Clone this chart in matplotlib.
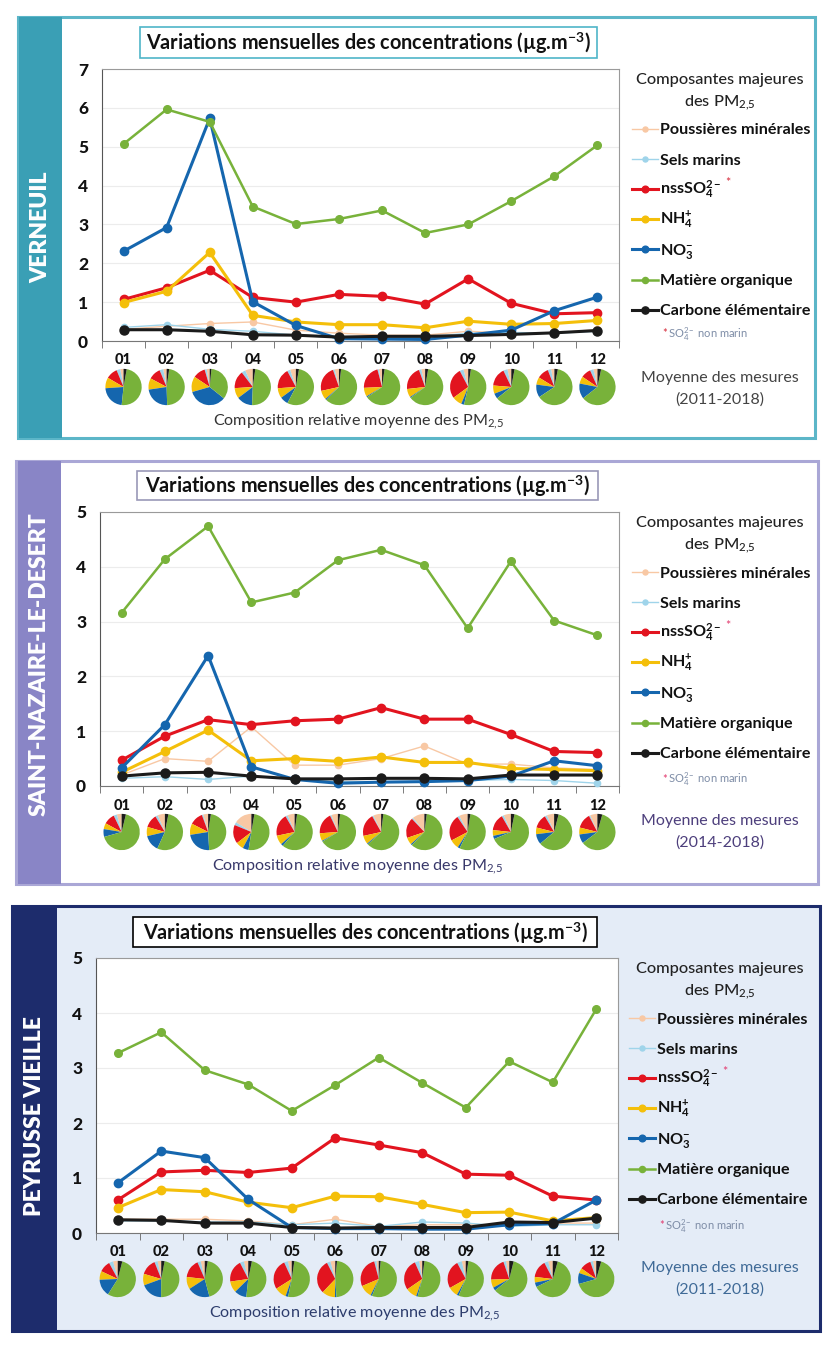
import numpy as np
import matplotlib
matplotlib.use("Agg")
import matplotlib.pyplot as plt
from matplotlib.patches import Rectangle

plt.rcParams["font.family"] = ["Lato", "DejaVu Sans"]
plt.rcParams["mathtext.fontset"] = "custom"
plt.rcParams["mathtext.rm"] = "Lato"
plt.rcParams["mathtext.it"] = "Lato:italic"
plt.rcParams["mathtext.bf"] = "Lato:bold"

W, H = 823, 1346

# ------------------------------------------------------------------
# Monthly mean concentrations (µg/m3), one list per component
# ------------------------------------------------------------------
months = ["01", "02", "03", "04", "05", "06", "07", "08", "09", "10", "11", "12"]

labels = [
    "Poussières minérales",
    "Sels marins",
    r"nssSO$_\mathregular{4}^\mathregular{2-}$",
    r"NH$_\mathregular{4}^\mathregular{+}$",
    r"NO$_\mathregular{3}^\mathregular{-}$",
    "Matière organique",
    "Carbone élémentaire",
]

# Verneuil (2011-2018)
verneuil_dust = [0.30, 0.38, 0.45, 0.49, 0.28, 0.20, 0.15, 0.15, 0.25, 0.20, 0.20, 0.30]
verneuil_salt = [0.35, 0.42, 0.30, 0.25, 0.15, 0.08, 0.07, 0.10, 0.20, 0.22, 0.20, 0.25]
verneuil_so4 = [1.07, 1.37, 1.82, 1.12, 1.00, 1.20, 1.15, 0.95, 1.60, 0.97, 0.70, 0.73]
verneuil_nh4 = [0.99, 1.28, 2.28, 0.66, 0.49, 0.42, 0.42, 0.34, 0.51, 0.43, 0.45, 0.53]
verneuil_no3 = [2.31, 2.92, 5.73, 1.01, 0.40, 0.06, 0.05, 0.04, 0.15, 0.28, 0.78, 1.13]
verneuil_om = [5.07, 5.96, 5.64, 3.46, 3.01, 3.14, 3.36, 2.78, 3.00, 3.60, 4.24, 5.04]
verneuil_ec = [0.29, 0.29, 0.25, 0.16, 0.15, 0.10, 0.12, 0.12, 0.14, 0.17, 0.21, 0.27]

# Saint-Nazaire-le-Desert (2014-2018)
nazaire_dust = [0.20, 0.50, 0.45, 1.08, 0.38, 0.38, 0.50, 0.73, 0.40, 0.40, 0.33, 0.30]
nazaire_salt = [0.14, 0.17, 0.12, 0.18, 0.12, 0.08, 0.08, 0.08, 0.10, 0.12, 0.10, 0.05]
nazaire_so4 = [0.47, 0.91, 1.21, 1.12, 1.19, 1.22, 1.43, 1.22, 1.22, 0.94, 0.63, 0.61]
nazaire_nh4 = [0.25, 0.63, 1.02, 0.46, 0.50, 0.45, 0.53, 0.43, 0.43, 0.32, 0.30, 0.28]
nazaire_no3 = [0.33, 1.12, 2.38, 0.35, 0.12, 0.05, 0.07, 0.08, 0.10, 0.18, 0.46, 0.37]
nazaire_om = [3.16, 4.14, 4.74, 3.35, 3.53, 4.12, 4.31, 4.03, 2.88, 4.10, 3.02, 2.75]
nazaire_ec = [0.18, 0.24, 0.25, 0.18, 0.13, 0.13, 0.14, 0.14, 0.13, 0.20, 0.20, 0.20]

# Peyrusse Vieille (2011-2018)
peyrusse_dust = [0.25, 0.25, 0.25, 0.22, 0.15, 0.25, 0.12, 0.15, 0.15, 0.15, 0.18, 0.18]
peyrusse_salt = [0.22, 0.22, 0.20, 0.20, 0.15, 0.18, 0.12, 0.20, 0.18, 0.12, 0.15, 0.15]
peyrusse_so4 = [0.60, 1.11, 1.14, 1.10, 1.18, 1.73, 1.60, 1.46, 1.07, 1.05, 0.67, 0.60]
peyrusse_nh4 = [0.46, 0.79, 0.75, 0.56, 0.46, 0.67, 0.66, 0.52, 0.37, 0.38, 0.22, 0.28]
peyrusse_no3 = [0.91, 1.49, 1.37, 0.61, 0.10, 0.08, 0.08, 0.07, 0.07, 0.15, 0.17, 0.60]
peyrusse_om = [3.27, 3.65, 2.96, 2.70, 2.22, 2.69, 3.19, 2.73, 2.28, 3.12, 2.74, 4.07]
peyrusse_ec = [0.24, 0.23, 0.18, 0.18, 0.10, 0.09, 0.10, 0.10, 0.10, 0.20, 0.19, 0.27]

# ------------------------------------------------------------------
# Styles
# ------------------------------------------------------------------
line_colors = ["#f8c8a4", "#9fd4ea", "#e2141f", "#f4bf0a", "#1566ae", "#78b23a", "#1b1b1b"]
line_widths = [1.0, 1.0, 2.2, 2.2, 2.2, 1.8, 2.2]
marker_sizes = [4.5, 4.5, 6, 6, 6, 5.5, 6.5]

panels = [
    dict(name="VERNEUIL", period="(2011-2018)", ymax=7,
         series=[verneuil_dust, verneuil_salt, verneuil_so4, verneuil_nh4,
                 verneuil_no3, verneuil_om, verneuil_ec],
         frame=(18, 17, 815, 438), band=(19, 17, 62, 438), band_color="#3a9fb5",
         edge="#5cb6c8", face="white", title_box=(140, 27, 597, 58),
         title_edge="#4fb5c8", axes=(102, 69, 619, 341), band_text_y=227,
         legend_x=632, note_y=334, period_y=378,
         bottom_color="#333333", period_color="#444444", star_color="#d62a3a"),
    dict(name="SAINT-NAZAIRE-LE-DESERT", period="(2014-2018)", ymax=5,
         series=[nazaire_dust, nazaire_salt, nazaire_so4, nazaire_nh4,
                 nazaire_no3, nazaire_om, nazaire_ec],
         frame=(16, 461, 818, 884), band=(18, 461, 61, 884), band_color="#8985c6",
         edge="#aaa7d6", face="white", title_box=(137, 471, 598, 500),
         title_edge="#9a98b8", axes=(100, 512, 619, 786), band_text_y=664,
         legend_x=632, note_y=779, period_y=821,
         bottom_color="#38386a", period_color="#4d3f7c", star_color="#e23a6e"),
    dict(name="PEYRUSSE VIEILLE", period="(2011-2018)", ymax=5,
         series=[peyrusse_dust, peyrusse_salt, peyrusse_so4, peyrusse_nh4,
                 peyrusse_no3, peyrusse_om, peyrusse_ec],
         frame=(12, 906, 820, 1331), band=(13, 906, 57, 1331), band_color="#1d2c6c",
         edge="#1d2c6c", face="#e4ecf7", title_box=(133, 917, 597, 947),
         title_edge="black", axes=(96, 958, 618, 1233), band_text_y=1116,
         legend_x=629, note_y=1226, period_y=1268,
         bottom_color="#2c3c6c", period_color="#3f6a97", star_color="#e23a6e"),
]

PM25 = r"PM$_\mathregular{2{,}5}$"


def px_rect(x0, y0, x1, y1):
    return [x0 / W, 1 - y1 / H, (x1 - x0) / W, (y1 - y0) / H]


fig = plt.figure(figsize=(W / 100, H / 100), dpi=100)
bg = fig.add_axes([0, 0, 1, 1])
bg.set_xlim(0, W)
bg.set_ylim(H, 0)
bg.axis("off")

x = np.arange(len(months))

for p in panels:
    fx0, fy0, fx1, fy1 = p["frame"]
    bg.add_patch(Rectangle((fx0, fy0), fx1 - fx0, fy1 - fy0, facecolor=p["face"],
                           edgecolor=p["edge"], lw=2.2))
    bx0, by0, bx1, by1 = p["band"]
    bg.add_patch(Rectangle((bx0, by0), bx1 - bx0, by1 - by0, facecolor=p["band_color"],
                           edgecolor="none"))
    bg.text((bx0 + bx1) / 2, p["band_text_y"], p["name"], rotation=90, color="white",
            fontsize=16.5, fontweight="heavy", ha="center", va="center")

    tx0, ty0, tx1, ty1 = p["title_box"]
    bg.add_patch(Rectangle((tx0, ty0), tx1 - tx0, ty1 - ty0, facecolor="white",
                           edgecolor=p["title_edge"], lw=1.2))
    bg.text((tx0 + tx1) / 2, (ty0 + ty1) / 2 + 1,
            r"Variations mensuelles des concentrations (µg.m$^\mathregular{-3}$)",
            fontsize=14.3, fontweight="bold", ha="center", va="center", color="#111111")

    ax0, ay0, ax1, ay1 = p["axes"]
    ax = fig.add_axes(px_rect(ax0, ay0, ax1, ay1))
    ax.set_facecolor("white")
    for vals, c, lw, ms in zip(p["series"], line_colors, line_widths, marker_sizes):
        ax.plot(x, vals, color=c, lw=lw, marker="o", ms=ms, clip_on=False, zorder=3)

    ax.set_xlim(-0.5, len(months) - 0.5)
    ax.set_ylim(0, p["ymax"])
    yt = list(range(p["ymax"] + 1))
    ax.set_yticks(yt, labels=[str(v) for v in yt])
    ax.set_xticks(x, labels=months)
    ax.set_xticks(np.arange(-0.5, len(months)), minor=True)
    ax.tick_params(axis="x", which="major", length=0, pad=9)
    ax.tick_params(axis="x", which="minor", length=5, direction="out", color="#666666")
    ax.tick_params(axis="y", length=0, pad=10)
    plt.setp(ax.get_yticklabels(), fontweight="black", fontsize=12.5, color="#111111")
    plt.setp(ax.get_xticklabels(), fontweight="black", fontsize=10.5, color="#111111")
    ax.grid(axis="y", color="#ececec", lw=0.8)
    ax.set_axisbelow(True)
    for side in ["top", "right"]:
        ax.spines[side].set_color("#9a9a9a")
        ax.spines[side].set_linewidth(0.8)
    ax.spines["left"].set_color("#555555")
    ax.spines["bottom"].set_color("#777777")

    # relative composition pies below each month
    axh = ay1 - ay0
    pie_d = 37
    pie_cy = 46
    for i in range(len(months)):
        comp = [s[i] for s in p["series"]]
        pa = ax.inset_axes([i - 0.45, -(pie_cy + pie_d / 2) / axh, 0.9, pie_d / axh],
                           transform=ax.get_xaxis_transform())
        pa.pie(comp, colors=line_colors, startangle=90, counterclock=True,
               wedgeprops=dict(linewidth=0))
        pa.set_xlim(-1.02, 1.02)
        pa.set_ylim(-1.02, 1.02)
        pa.set_aspect("equal")
        pa.axis("off")

    bg.text((ax0 + ax1) / 2 - 2, ay1 + 81,
            "Composition relative moyenne des " + PM25,
            fontsize=11.6, color=p["bottom_color"], ha="center", va="center")

    # legend block to the right of the plot area
    lx = p["legend_x"]
    bg.text(720, ay0 + 11, "Composantes majeures", fontsize=11.8, color="#222222",
            fontweight="medium", ha="center", va="center")
    bg.text(720, ay0 + 34, "des " + PM25, fontsize=11.8, color="#222222",
            fontweight="medium", ha="center", va="center")
    entry_texts = []
    for k, (lab, c, lw, ms) in enumerate(zip(labels, line_colors, line_widths, marker_sizes)):
        yk = ay0 + 60 + 30.1 * k
        bg.plot([lx, lx + 26], [yk, yk], color=c, lw=lw)
        bg.plot([lx + 13], [yk], marker="o", ms=ms * 0.8, color=c)
        entry_texts.append(bg.text(lx + 28, yk + 5.5, lab, fontsize=11.6,
                                   fontweight="bold", color="#111111",
                                   ha="left", va="baseline"))
    bg.annotate("*", xy=(1, 0.8), xycoords=entry_texts[2], xytext=(3, 0),
                textcoords="offset points", color=p["star_color"], fontsize=9,
                ha="left", va="center")

    # footnote for the non-sea-salt sulphate
    note_x = lx + 30
    bg.text(note_x, p["note_y"], "*", color=p["star_color"], fontsize=8,
            ha="left", va="center")
    bg.text(note_x + 6, p["note_y"], r"SO$_\mathregular{4}^\mathregular{2-}$ non marin",
            color="#7d8ca6", fontsize=8, ha="left", va="center")

    bg.text(720, p["period_y"], "Moyenne des mesures", fontsize=11.5,
            color=p["period_color"], ha="center", va="center")
    bg.text(720, p["period_y"] + 22, p["period"], fontsize=11.5,
            color=p["period_color"], ha="center", va="center")

fig.savefig("out.png", dpi=100)
